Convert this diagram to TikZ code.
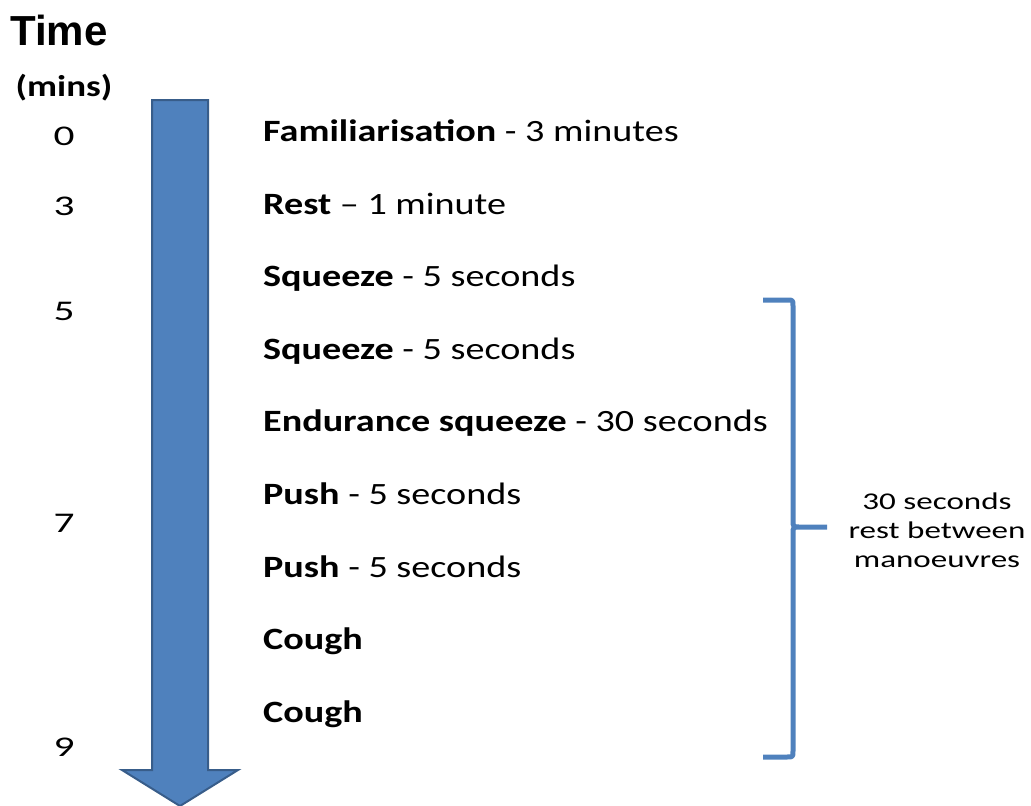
\documentclass[tikz,border=0pt]{standalone}
\usepackage{fontspec}
\newfontfamily\cf[FakeStretch=1.23,Numbers=Lining]{Carlito}
\newfontfamily\af{Liberation Sans}
\definecolor{arrowfill}{HTML}{4F81BD}
\definecolor{arrowline}{HTML}{385D8A}
\newcommand{\numtxt}[1]{\scalebox{1.18}[1]{#1}}
\newcommand{\notetxt}[1]{\scalebox{1.12}[1]{#1}}
\begin{document}
\begin{tikzpicture}[x=1pt,y=-1pt,
  lbl/.style={anchor=base west,inner sep=0pt,font=\cf\fontsize{31}{36}\selectfont},
  num/.style={anchor=base,inner sep=0pt,font=\cf\fontsize{28.5}{34}\selectfont},
  note/.style={align=center,inner sep=0pt,font=\cf\fontsize{24}{29}\selectfont}]
\useasboundingbox (0,0) rectangle (1031,806);
\node[anchor=base west,inner sep=0pt,font=\af\bfseries\fontsize{42}{48}\selectfont] (time) at (10,45) {Time};
\node[anchor=base,inner sep=0pt,font=\cf\bfseries\fontsize{30}{36}\selectfont] (mins) at (64,96) {(mins)};
\draw[line width=2pt,draw=arrowline,fill=arrowfill,line join=miter]
  (152,100) -- (208,100) -- (208,770) -- (238,770) -- (180,806) -- (122,770) -- (152,770) -- cycle;
\node[num] (n0) at (64,145) {\numtxt{0}};
\node[num] (n3) at (64,215) {\numtxt{3}};
\node[num] (n5) at (64,320) {\numtxt{5}};
\node[num] (n7) at (64,532) {\numtxt{7}};
\node[num] (n9) at (64,756) {\numtxt{9}};
\node[lbl] (e1) at (263,141.5) {\textbf{Familiarisation} - 3 minutes};
\node[lbl] (e2) at (263,214) {\textbf{Rest} \textendash{} 1 minute};
\node[lbl] (e3) at (263,286.7) {\textbf{Squeeze} - 5 seconds};
\node[lbl] (e4) at (263,359.3) {\textbf{Squeeze} - 5 seconds};
\node[lbl] (e5) at (263,431.9) {\textbf{Endurance squeeze} - 30 seconds};
\node[lbl] (e6) at (263,504.5) {\textbf{Push} - 5 seconds};
\node[lbl] (e7) at (263,577.1) {\textbf{Push} - 5 seconds};
\node[lbl] (e8) at (263,649.7) {\textbf{Cough}};
\node[lbl] (e9) at (263,722.3) {\textbf{Cough}};
\draw[line width=5pt,draw=arrowfill,line join=round]
  (763,300) -- (787,300) .. controls (793,300) .. (793,306) -- (793,520)
  .. controls (793,527) .. (800,527) -- (827,527)
  (800,527) .. controls (793,527) .. (793,534) -- (793,751)
  .. controls (793,757) .. (787,757) -- (763,757);
\node[note] (rest) at (937,530) {\notetxt{30 seconds}\\\notetxt{rest between}\\\notetxt{manoeuvres}};
\end{tikzpicture}
\end{document}
